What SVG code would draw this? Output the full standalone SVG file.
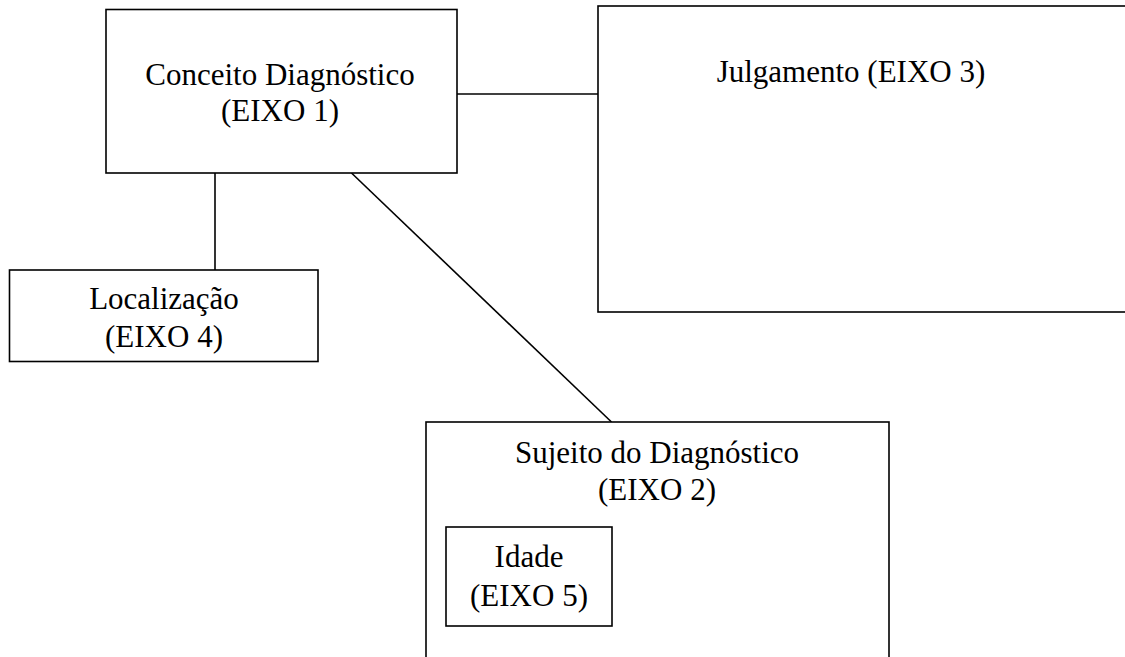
<svg xmlns="http://www.w3.org/2000/svg" width="1125" height="657" viewBox="0 0 1125 657">
<style>
.box{fill:#fff;stroke:#000;stroke-width:1.6}
.ln{stroke:#000;stroke-width:1.6;fill:none}
text{font-family:"Liberation Serif","Times New Roman",serif;font-size:31px;fill:#000;text-anchor:middle}
</style>
<rect width="1125" height="657" fill="#fff"/>
<g id="connectors">
<line class="ln" x1="457" y1="94" x2="598" y2="94"/>
<line class="ln" x1="215" y1="173" x2="215" y2="270"/>
<line class="ln" x1="351.5" y1="173" x2="611.5" y2="422"/>
</g>
<g id="eixo1">
<rect class="box" x="106" y="9.5" width="351" height="163.5"/>
<text x="280" y="85">Conceito Diagnóstico</text>
<text x="280" y="121">(EIXO 1)</text>
</g>
<g id="eixo3">
<rect class="box" x="598" y="6" width="560" height="306"/>
<text x="851" y="82">Julgamento (EIXO 3)</text>
</g>
<g id="eixo4">
<rect class="box" x="9.5" y="270" width="308.5" height="91.5"/>
<text x="164" y="309">Localização</text>
<text x="164" y="347">(EIXO 4)</text>
</g>
<g id="eixo2">
<rect class="box" x="426" y="422" width="463" height="260"/>
<text x="657" y="463">Sujeito do Diagnóstico</text>
<text x="657" y="500">(EIXO 2)</text>
</g>
<g id="eixo5">
<rect class="box" x="446" y="527" width="166" height="99"/>
<text x="529" y="567">Idade</text>
<text x="529" y="606">(EIXO 5)</text>
</g>
</svg>
